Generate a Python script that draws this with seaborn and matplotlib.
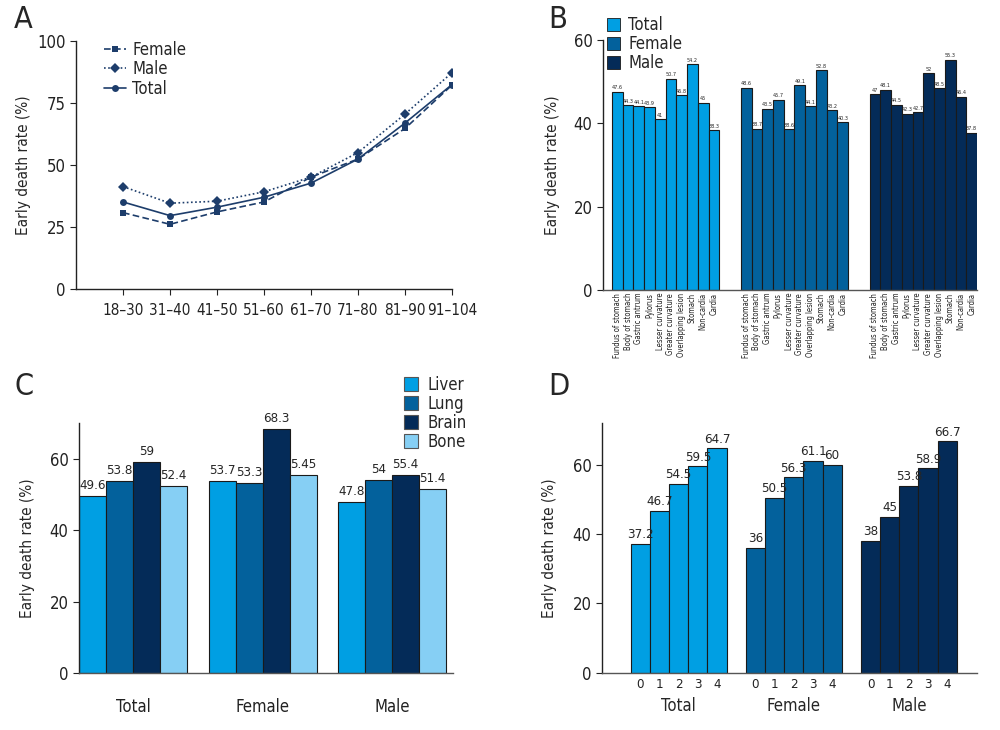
import numpy as np
import pandas as pd
import matplotlib.pyplot as plt
import seaborn as sns
from matplotlib.patches import Patch

# ---- data -------------------------------------------------------------
# Panel A: early death rate by age group
AGE_GROUPS = ['18–30', '31–40', '41–50', '51–60', '61–70', '71–80', '81–90', '91–104']
FEMALE_A = [30.8, 26.1, 31.1, 35.1, 45.1, 52.4, 64.7, 82.2]
MALE_A = [41.3, 34.6, 35.4, 39.2, 45.1, 55.0, 70.5, 87.2]
TOTAL_A = [35.1, 29.6, 33.0, 37.0, 42.7, 52.4, 66.9, 82.4]

# Panel B: by tumour site
SITES = ['Fundus of stomach', 'Body of stomach', 'Gastric antrum', 'Pylorus',
         'Lesser curvature', 'Greater curvature', 'Overlapping lesion',
         'Stomach', 'Non-cardia', 'Cardia']
SITE_TOTAL = [47.6, 44.3, 44.1, 43.9, 41, 50.7, 46.8, 54.2, 45, 38.3]
SITE_FEMALE = [48.6, 38.7, 43.5, 45.7, 38.6, 49.1, 44.1, 52.8, 43.2, 40.3]
SITE_MALE = [47, 48.1, 44.5, 42.3, 42.7, 52, 48.5, 55.3, 46.4, 37.8]

# Panel C: by metastasis site
SEXES = ['Total', 'Female', 'Male']
METS = ['Liver', 'Lung', 'Brain', 'Bone']
MET_LIVER = [49.6, 53.7, 47.8]
MET_LUNG = [53.8, 53.3, 54]
MET_BRAIN = [59, 68.3, 55.4]
MET_BONE = [52.4, 55.4, 51.4]
MET_BONE_TEXT = ['52.4', '5.45', '51.4']   # label as printed in the source

# Panel D: by number of metastatic sites
N_SITES = ['0', '1', '2', '3', '4']
NUM_TOTAL = [37.2, 46.7, 54.5, 59.5, 64.7]
NUM_FEMALE = [36, 50.5, 56.3, 61.1, 60]
NUM_MALE = [38, 45, 53.8, 58.9, 66.7]

NAVY = '#1d3d6b'
C_TOTAL = '#009fe3'
C_FEMALE = '#03619c'
C_MALE = '#042b58'
C_BONE = '#86cff4'
EDGE = '#1a1a1a'

sns.set_theme(style='ticks')
plt.rcParams['font.family'] = ['DejaVu Sans']
plt.rcParams['font.stretch'] = 'condensed'
plt.rcParams['axes.linewidth'] = 1.0
plt.rcParams['xtick.color'] = '#222222'
plt.rcParams['ytick.color'] = '#222222'

fig = plt.figure(figsize=(10, 7.3), dpi=100)


def style_axis(ax, ylab_x):
    sns.despine(ax=ax)
    ax.spines['left'].set_color('#222222')
    ax.spines['bottom'].set_color('#555555')
    ax.tick_params(axis='y', labelsize=12, length=4, width=0.8)
    ax.set_ylabel('Early death rate (%)', fontsize=11)
    ax.yaxis.set_label_coords(ylab_x, 0.5)


# ---- A ------------------------------------------------------------------
axA = fig.add_axes([0.076, 0.604, 0.376, 0.34])
dfa = pd.DataFrame({
    'pos': list(range(len(AGE_GROUPS))) * 3,
    'rate': FEMALE_A + MALE_A + TOTAL_A,
    'sex': ['Female'] * 8 + ['Male'] * 8 + ['Total'] * 8,
})
sns.lineplot(data=dfa, x='pos', y='rate', style='sex',
             style_order=['Female', 'Male', 'Total'],
             markers={'Female': 's', 'Male': 'D', 'Total': 'o'},
             dashes={'Female': (4, 2), 'Male': (1, 1.5), 'Total': ''},
             color=NAVY, markersize=5, markeredgewidth=0, linewidth=1.2,
             ax=axA)
axA.set_xlim(-1, 7)
axA.set_ylim(0, 100)
axA.set_yticks([0, 25, 50, 75, 100])
axA.set_xticks(range(len(AGE_GROUPS)))
axA.set_xticklabels(AGE_GROUPS, fontsize=11)
axA.tick_params(axis='x', length=4, width=0.8, pad=6)
axA.set_xlabel('')
style_axis(axA, -0.12)
axA.spines['bottom'].set_color('#222222')
axA.legend(loc='upper left', bbox_to_anchor=(0.035, 1.06), frameon=False,
           fontsize=12, handlelength=1.3, handletextpad=0.4,
           labelspacing=0.08, title=None)

# ---- B ------------------------------------------------------------------
axB = fig.add_axes([0.603, 0.6027, 0.374, 0.3425])
groups_b = ['Total', 'Female', 'Male']
dfb = pd.DataFrame({
    'pos': [g * 12 + i for g in range(3) for i in range(len(SITES))],
    'rate': SITE_TOTAL + SITE_FEMALE + SITE_MALE,
    'group': [g for g in groups_b for _ in SITES],
})
sns.barplot(data=dfb, x='pos', y='rate', hue='group', hue_order=groups_b,
            palette=[C_TOTAL, C_FEMALE, C_MALE], native_scale=True,
            dodge=False, width=1, errorbar=None, edgecolor=EDGE, saturation=1,
            linewidth=0.8, legend=False, ax=axB)
for cont in axB.containers:
    axB.bar_label(cont, labels=[f'{b.get_height():g}' for b in cont],
                  fontsize=4, padding=1)
axB.set_xlim(-1.33, 33.5)
axB.set_ylim(0, 60)
axB.set_yticks([0, 20, 40, 60])
axB.set_xticks(dfb['pos'])
axB.set_xticklabels(SITES * 3, rotation=90, fontsize=5.5)
axB.tick_params(axis='x', length=0, pad=2)
axB.set_xlabel('')
style_axis(axB, -0.115)
axB.legend(handles=[Patch(facecolor=c, edgecolor=EDGE, linewidth=0.6, label=l)
                    for c, l in zip([C_TOTAL, C_FEMALE, C_MALE], groups_b)],
           loc='upper left', bbox_to_anchor=(-0.03, 1.155), frameon=False,
           fontsize=12, handlelength=0.8, handleheight=0.8, labelspacing=0.06,
           handletextpad=0.5)

# ---- C ------------------------------------------------------------------
axC = fig.add_axes([0.079, 0.078, 0.374, 0.3425])
dfc = pd.DataFrame({
    'sex': SEXES * 4,
    'rate': MET_LIVER + MET_LUNG + MET_BRAIN + MET_BONE,
    'site': [m for m in METS for _ in SEXES],
})
sns.barplot(data=dfc, x='sex', y='rate', hue='site', hue_order=METS,
            order=SEXES, palette=[C_TOTAL, C_FEMALE, C_MALE, C_BONE],
            width=0.834, errorbar=None, edgecolor=EDGE, linewidth=0.8,
            saturation=1, legend=False, ax=axC)
text_c = [[f'{v:g}' for v in MET_LIVER], [f'{v:g}' for v in MET_LUNG],
          [f'{v:g}' for v in MET_BRAIN], MET_BONE_TEXT]
for cont, labs in zip(axC.containers, text_c):
    axC.bar_label(cont, labels=labs, fontsize=9.5, padding=3)
axC.set_xlim(-0.417, 2.47)
axC.set_ylim(0, 70)
axC.set_yticks([0, 20, 40, 60])
axC.tick_params(axis='x', length=0, labelsize=12, pad=18)
axC.set_xlabel('')
style_axis(axC, -0.118)
axC.legend(handles=[Patch(facecolor=c, edgecolor='#555555', linewidth=0.8, label=l)
                    for c, l in zip([C_TOTAL, C_FEMALE, C_MALE, C_BONE], METS)],
           loc='upper left', bbox_to_anchor=(0.83, 1.25), frameon=False,
           fontsize=12, handlelength=0.8, handleheight=0.9, labelspacing=0.06,
           handletextpad=0.6)

# ---- D ------------------------------------------------------------------
axD = fig.add_axes([0.602, 0.0785, 0.375, 0.342])
dfd = pd.DataFrame({
    'pos': [g * 6 + i for g in range(3) for i in range(len(N_SITES))],
    'rate': NUM_TOTAL + NUM_FEMALE + NUM_MALE,
    'group': [g for g in SEXES for _ in N_SITES],
})
sns.barplot(data=dfd, x='pos', y='rate', hue='group', hue_order=SEXES,
            palette=[C_TOTAL, C_FEMALE, C_MALE], native_scale=True,
            dodge=False, width=1, errorbar=None, edgecolor=EDGE, saturation=1,
            linewidth=0.8, legend=False, ax=axD)
for cont in axD.containers:
    axD.bar_label(cont, labels=[f'{b.get_height():g}' for b in cont],
                  fontsize=9.5, padding=2)
axD.set_xlim(-2.0, 17.55)
axD.set_ylim(0, 72)
axD.set_yticks([0, 20, 40, 60])
axD.set_xticks(dfd['pos'])
axD.set_xticklabels(N_SITES * 3, fontsize=9.5)
axD.tick_params(axis='x', length=0, pad=4)
axD.set_xlabel('')
style_axis(axD, -0.12)
for g, name in enumerate(SEXES):
    axD.text(g * 6 + 2, -0.135, name, transform=axD.get_xaxis_transform(),
             ha='center', va='center', fontsize=12)

# ---- panel letters ------------------------------------------------------
for x, y, s in [(0.014, 0.993, 'A'), (0.548, 0.993, 'B'),
                (0.014, 0.49, 'C'), (0.548, 0.49, 'D')]:
    fig.text(x, y, s, fontsize=22, va='top', ha='left')

fig.savefig('out.png', dpi=100)
